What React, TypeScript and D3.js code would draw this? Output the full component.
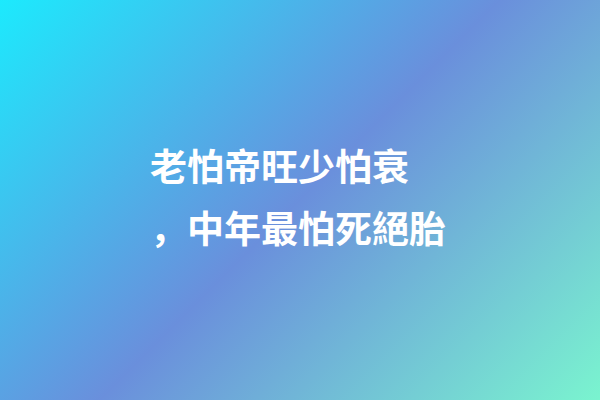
import React, { useEffect, useRef } from 'react';
import * as d3 from 'd3';

// Text lines shown over the background
const lines = ['老怕帝旺少怕衰', '，中年最怕死絕胎'];

// Background gradient (top-left -> bottom-right)
const stopOffsets = [0, 0.5, 1];
const stopColors = ['#1ceafd', '#6a8fdc', '#7af4cf'];

const App: React.FC = () => {
  const svgRef = useRef<SVGSVGElement>(null);

  useEffect(() => {
    if (!svgRef.current) return;

    d3.select(svgRef.current).selectAll('*').remove();

    const width = 600;
    const height = 400;

    const svg = d3.select(svgRef.current)
      .attr('width', width)
      .attr('height', height);

    // Gradient at 135deg through the centre
    const defs = svg.append('defs');
    const grad = defs.append('linearGradient')
      .attr('id', 'bg')
      .attr('gradientUnits', 'userSpaceOnUse')
      .attr('x1', 50)
      .attr('y1', -50)
      .attr('x2', 550)
      .attr('y2', 450);

    grad.selectAll('stop')
      .data(stopOffsets)
      .enter().append('stop')
      .attr('offset', d => d)
      .attr('stop-color', (d, i) => stopColors[i]);

    svg.append('rect')
      .attr('width', width)
      .attr('height', height)
      .attr('fill', 'url(#bg)');

    // Line baselines
    const y = d3.scalePoint<number>()
      .domain(d3.range(lines.length))
      .range([181, 243]);

    svg.append('g')
      .attr('font-family', '"Noto Sans CJK SC", "Noto Sans CJK TC", sans-serif')
      .attr('font-weight', 'bold')
      .attr('font-size', 37)
      .attr('fill', '#ffffff')
      .selectAll('text')
      .data(lines)
      .enter().append('text')
      .attr('x', 150)
      .attr('y', (d, i) => y(i) as number)
      .text(d => d);
  }, []);

  return (
    <svg
      ref={svgRef}
      style={{ position: 'absolute', left: 0, top: 0, display: 'block' }}
    ></svg>
  );
};

export default App;
